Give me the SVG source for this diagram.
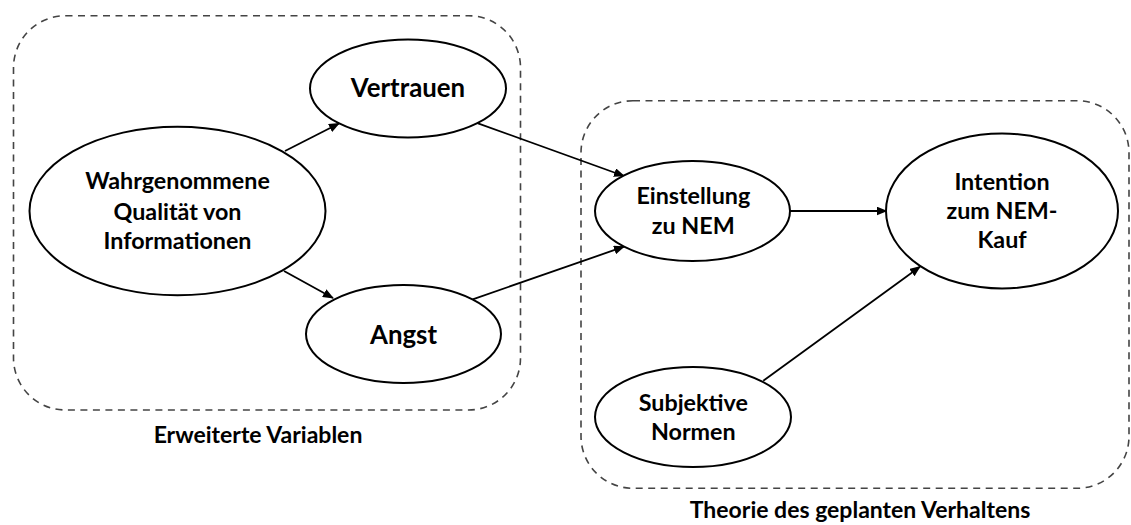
<svg xmlns="http://www.w3.org/2000/svg" width="1131" height="525" viewBox="0 0 1131 525">
<style>
.grp{fill:none;stroke:#444;stroke-width:1.6;stroke-dasharray:7 5.5}
.node ellipse{fill:#fff;stroke:#000;stroke-width:2}
text{font-family:Lato,"Open Sans","Liberation Sans",sans-serif;font-weight:bold;fill:#000;text-anchor:middle}
.t{font-size:23.3px}
.big{font-size:25.8px}
.lbl{font-size:23px}
.edge{stroke:#000;stroke-width:1.8;fill:none;marker-end:url(#ah)}
</style>
<defs>
<marker id="ah" markerUnits="userSpaceOnUse" markerWidth="11" markerHeight="9" refX="10" refY="4.5" orient="auto">
<path d="M0,0 L11,4.5 L0,9 z" fill="#000"/>
</marker>
</defs>
<g id="group-erweiterte">
<rect class="grp" x="13.5" y="15.7" width="507" height="394.3" rx="52" ry="52"/>
<text class="lbl" x="258" y="443">Erweiterte Variablen</text>
</g>
<g id="group-theorie">
<rect class="grp" x="581" y="100.7" width="548" height="387.6" rx="52" ry="52"/>
<text class="lbl" x="860" y="518">Theorie des geplanten Verhaltens</text>
</g>
<g id="connectors">
<line class="edge" x1="285" y1="151" x2="339" y2="123.5"/>
<line class="edge" x1="284" y1="271" x2="333" y2="298"/>
<line class="edge" x1="478" y1="123.3" x2="624" y2="176"/>
<line class="edge" x1="472.7" y1="299.3" x2="624" y2="246.7"/>
<line class="edge" x1="790" y1="211" x2="886.5" y2="211"/>
<line class="edge" x1="763.3" y1="380.7" x2="920" y2="266.7"/>
</g>
<g id="node-wahrgenommene" class="node">
<ellipse cx="177.5" cy="211" rx="148" ry="84.3"/>
<text class="t" x="177.5" y="189.3">Wahrgenommene</text>
<text class="t" x="177.5" y="220">Qualität von</text>
<text class="t" x="177.5" y="249">Informationen</text>
</g>
<g id="node-vertrauen" class="node">
<ellipse cx="408" cy="88.5" rx="98" ry="49"/>
<text class="big" x="408" y="97">Vertrauen</text>
</g>
<g id="node-angst" class="node">
<ellipse cx="403.5" cy="334" rx="97.5" ry="49"/>
<text class="big" x="403.5" y="343.5">Angst</text>
</g>
<g id="node-einstellung" class="node">
<ellipse cx="692.5" cy="211" rx="97.5" ry="50"/>
<text class="t" x="693.3" y="204">Einstellung</text>
<text class="t" x="693.3" y="234">zu NEM</text>
</g>
<g id="node-intention" class="node">
<ellipse cx="1002" cy="211" rx="116" ry="77.5"/>
<text class="t" x="1002" y="190">Intention</text>
<text class="t" x="1002" y="219.3">zum NEM-</text>
<text class="t" x="1002" y="248.3">Kauf</text>
</g>
<g id="node-subjektive" class="node">
<ellipse cx="693" cy="417" rx="98" ry="50"/>
<text class="t" x="693.3" y="410.7">Subjektive</text>
<text class="t" x="693.3" y="440">Normen</text>
</g>
</svg>
